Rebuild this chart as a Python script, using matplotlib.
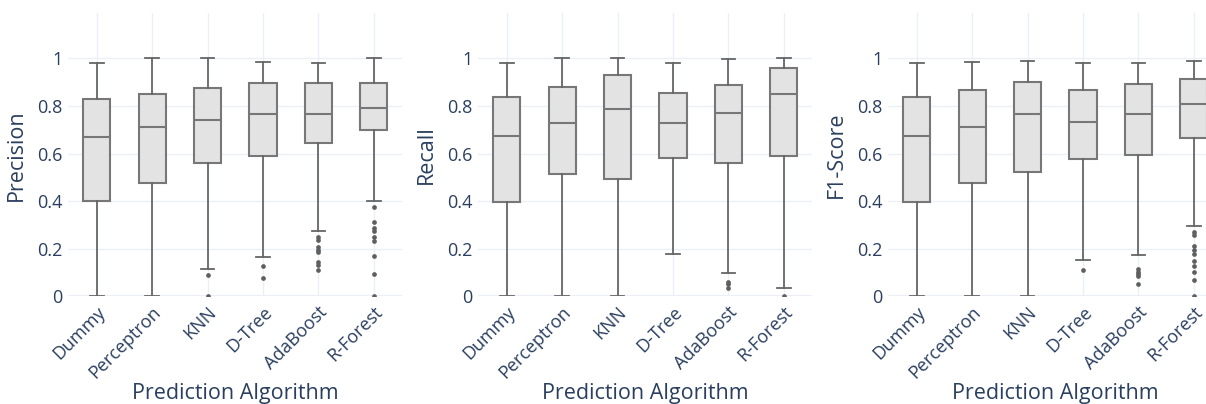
import numpy as np
import matplotlib
matplotlib.use("Agg")
import matplotlib.pyplot as plt

plt.rcParams["font.family"] = ["Open Sans", "DejaVu Sans"]

algorithms = ["Dummy", "Perceptron", "KNN", "D-Tree", "AdaBoost", "R-Forest"]

# per algorithm: [lower whisker, Q1, median, Q3, upper whisker]
precision_stats = [
    [0.0, 0.400, 0.669, 0.831, 0.983],
    [0.0, 0.476, 0.710, 0.850, 1.000],
    [0.116, 0.562, 0.741, 0.874, 1.000],
    [0.165, 0.590, 0.765, 0.895, 0.985],
    [0.273, 0.644, 0.765, 0.895, 0.983],
    [0.402, 0.697, 0.790, 0.895, 1.000],
]
precision_outliers = [
    [],
    [],
    [0.088, 0.0],
    [0.126, 0.076],
    [0.247, 0.235, 0.207, 0.196, 0.185, 0.142, 0.130, 0.109],
    [0.374, 0.314, 0.287, 0.272, 0.249, 0.232, 0.168, 0.092, 0.0],
]

recall_stats = [
    [0.0, 0.395, 0.674, 0.839, 0.983],
    [0.0, 0.513, 0.728, 0.882, 1.000],
    [0.0, 0.493, 0.786, 0.930, 1.000],
    [0.178, 0.581, 0.728, 0.854, 0.979],
    [0.098, 0.560, 0.772, 0.889, 0.996],
    [0.036, 0.588, 0.850, 0.959, 1.000],
]
recall_outliers = [
    [],
    [],
    [],
    [],
    [0.060, 0.050, 0.036],
    [0.0],
]

f1_stats = [
    [0.0, 0.398, 0.674, 0.838, 0.983],
    [0.0, 0.478, 0.710, 0.866, 0.985],
    [0.0, 0.521, 0.766, 0.899, 0.990],
    [0.150, 0.578, 0.731, 0.867, 0.982],
    [0.174, 0.594, 0.768, 0.891, 0.983],
    [0.296, 0.665, 0.809, 0.913, 0.990],
]
f1_outliers = [
    [],
    [],
    [],
    [0.109],
    [0.115, 0.101, 0.092, 0.083, 0.052],
    [0.269, 0.258, 0.210, 0.193, 0.176, 0.146, 0.126, 0.100, 0.067, 0.0],
]

panels = [
    ("Precision", precision_stats, precision_outliers),
    ("Recall", recall_stats, recall_outliers),
    ("F1-Score", f1_stats, f1_outliers),
]

text_color = "#2a3f5f"
grid_color = "#EBF0F8"
line_color = "#777777"

W, H = 1206, 404
fig = plt.figure(figsize=(W / 100, H / 100), dpi=100)

for i, (name, stats, outliers) in enumerate(panels):
    left = (68 + 410 * i) / W
    ax = fig.add_axes([left, 0.267, 334 / W, 0.700])

    bxp_stats = []
    for s, fl in zip(stats, outliers):
        bxp_stats.append({
            "whislo": s[0], "q1": s[1], "med": s[2], "q3": s[3], "whishi": s[4],
            "fliers": fl,
        })
    ax.bxp(
        bxp_stats,
        positions=np.arange(len(algorithms)),
        widths=0.49,
        patch_artist=True,
        showfliers=True,
        boxprops=dict(facecolor="#e3e3e3", edgecolor=line_color, linewidth=1.5),
        medianprops=dict(color=line_color, linewidth=1.5),
        whiskerprops=dict(color="#666666", linewidth=1.3),
        capprops=dict(color="#666666", linewidth=1.3),
        capwidths=0.245,
        flierprops=dict(marker="o", markersize=3.4, markerfacecolor="#5f5f5f",
                        markeredgecolor="none"),
        zorder=3,
    )

    ax.set_xlim(-0.52, 5.51)
    ax.set_ylim(0, 1.19)
    ax.set_yticks([0, 0.2, 0.4, 0.6, 0.8, 1.0])
    ax.set_yticklabels(["0", "0.2", "0.4", "0.6", "0.8", "1"])
    ax.set_xticks(np.arange(len(algorithms)))
    ax.set_xticklabels(algorithms, rotation=45, ha="right", va="top",
                       rotation_mode="anchor")
    ax.tick_params(length=0, labelsize=13, colors=text_color, pad=4)
    ax.tick_params(axis="x", pad=5)

    ax.grid(True, color=grid_color, linewidth=1, zorder=0)
    ax.set_axisbelow(True)
    for sp in ax.spines.values():
        sp.set_visible(False)
    ax.axhline(0, color=grid_color, linewidth=1.5, zorder=1)

    ax.set_ylabel(name, fontsize=15.5, color=text_color, labelpad=7)
    ax.set_xlabel("Prediction Algorithm", fontsize=15.5, color=text_color,
                  va="baseline")
    ax.xaxis.set_label_coords(0.5, -0.362)

fig.savefig("out.png", dpi=100, facecolor="white")
